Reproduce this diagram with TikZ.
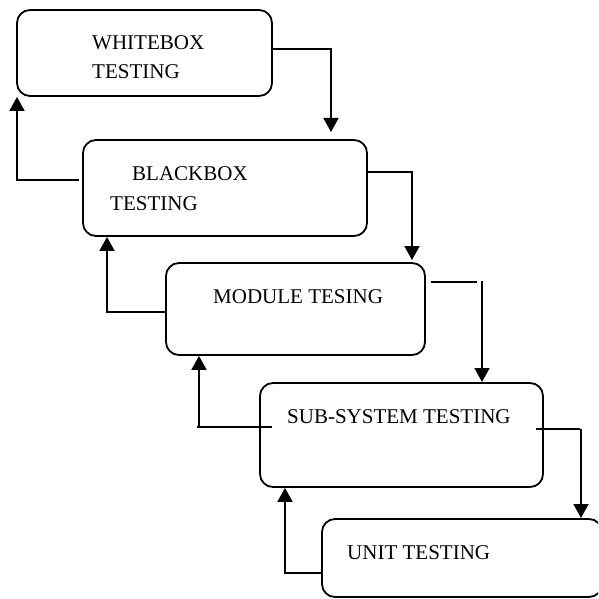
\documentclass[tikz,border=0pt]{standalone}
\usepackage{fontspec}
\setmainfont{Liberation Serif}
\usetikzlibrary{arrows.meta}
\begin{document}
\begin{tikzpicture}[x=1pt,y=-1pt,
  stage/.style={draw, line width=1.8pt, rounded corners=13pt, inner sep=0pt},
  label/.style={anchor=base west, inner sep=0pt, font=\fontsize{21}{25}\selectfont},
  link/.style={line width=1.8pt},
  flow/.style={line width=1.8pt, -{Triangle[length=14pt,width=15pt]}}]
\useasboundingbox (0,0) rectangle (598,599);
\clip (0,0) rectangle (598,599);

% the five testing stages
\node[stage, minimum width=255pt, minimum height=86pt]  (white)  at (144.5,53) {};
\node[stage, minimum width=284pt, minimum height=96pt]  (black)  at (225,188)   {};
\node[stage, minimum width=259pt, minimum height=92pt]  (module) at (295.5,309) {};
\node[stage, minimum width=283pt, minimum height=104pt] (subsys) at (401.5,435) {};
\node[stage, minimum width=280pt, minimum height=78pt]  (unit)   at (462,558)   {};

% stage titles
\node[label] (whiteA)  at (92,50)   {WHITEBOX};
\node[label] (whiteB)  at (92,79)   {TESTING};
\node[label] (blackA)  at (132,180) {BLACKBOX};
\node[label] (blackB)  at (110,210) {TESTING};
\node[label] (moduleA) at (213,303) {MODULE TESING};
\node[label] (subsysA) at (287,423) {SUB-SYSTEM TESTING};
\node[label] (unitA)   at (347,559) {UNIT TESTING};

% bend points of the connectors
\coordinate (d1) at (331,49);
\coordinate (d1e) at (331,132);
\coordinate (u1s) at (79,180);
\coordinate (u1) at (17,180);
\coordinate (d2) at (412,172);
\coordinate (d2e) at (412,260);
\coordinate (u2) at (107,312);
\coordinate (d3a) at (431,282);
\coordinate (d3b) at (477,282);
\coordinate (d3c) at (482,281);
\coordinate (d3e) at (482,382);
\coordinate (u3a) at (272,427);
\coordinate (u3b) at (197,427);
\coordinate (u3c) at (199,427);
\coordinate (d4a) at (536,429);
\coordinate (d4b) at (580,429);
\coordinate (d4c) at (581,429);
\coordinate (d4e) at (581,518);
\coordinate (u4) at (285,573);

% downward flow
\draw[flow] (white.east |- d1) -- (d1) -- (d1e);
\draw[flow] (black.east |- d2) -- (d2) -- (d2e);
\draw[link] (d3a) -- (d3b);
\draw[flow] (d3c) -- (d3e);
\draw[link] (d4a) -- (d4b);
\draw[flow] (d4c) -- (d4e);

% feedback to the previous stage
\draw[flow] (u1s) -- (u1) -- (u1 |- white.south);
\draw[flow] (module.west |- u2) -- (u2) -- (u2 |- black.south);
\draw[link] (u3a) -- (u3b);
\draw[flow] (u3c) -- (u3c |- module.south);
\draw[flow] (unit.west |- u4) -- (u4) -- (u4 |- subsys.south);
\end{tikzpicture}
\end{document}
